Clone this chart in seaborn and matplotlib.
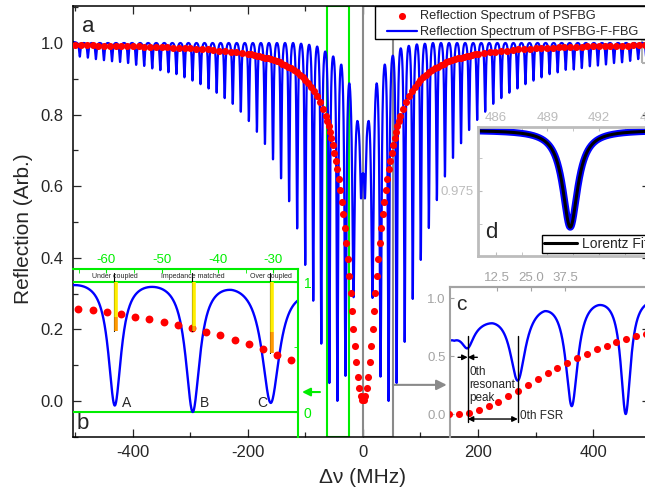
import numpy as np
import pandas as pd
import matplotlib
matplotlib.use("Agg")
import matplotlib.pyplot as plt
import seaborn as sns
from matplotlib.patches import Rectangle
from matplotlib.ticker import MultipleLocator, FixedLocator, FormatStrFormatter

# ---------------- data ----------------
# PSFBG-F-FBG (blue): dip centres (MHz) and dip minima
dip_pos_left = [-492.5, -478.5, -464.5, -450.5, -436.5, -422.5, -408.5, -394.5,
                -380.5, -366.5, -352.5, -338.5, -324.5, -310.5, -296.5, -282.5,
                -268.5, -254.5, -240.5, -226.5, -212.5, -198.5, -184.5, -170.5,
                -156.5, -142.5, -128.5, -114.5, -100.5, -86.5, -72.5, -58.5,
                -44.5, -30.5, -16.5, -3.5]
dip_min_left = [0.962, 0.959, 0.955, 0.952, 0.949, 0.947, 0.944, 0.939,
                0.936, 0.929, 0.924, 0.918, 0.913, 0.904, 0.895, 0.885,
                0.873, 0.861, 0.846, 0.830, 0.808, 0.782, 0.752, 0.718,
                0.675, 0.622, 0.558, 0.482, 0.380, 0.280, 0.160, 0.050,
                0.000, 0.070, 0.290, 0.567]
dip_pos_right = [3.5, 16.5, 30.5, 44.5, 58.5, 72.5, 86.5, 100.5,
                 114.5, 128.5, 142.5, 156.5, 170.5, 184.5, 198.5, 212.5,
                 226.5, 240.5, 254.5, 268.5, 282.5, 296.5, 310.5, 324.5,
                 338.5, 352.5, 366.5, 380.5, 394.5, 408.5, 422.5, 436.5,
                 450.5, 464.5, 478.5, 492.5]
dip_min_right = [0.567, 0.288, 0.068, 0.000, 0.050, 0.165, 0.285, 0.394,
                 0.483, 0.561, 0.627, 0.679, 0.720, 0.757, 0.785, 0.808,
                 0.830, 0.846, 0.861, 0.873, 0.885, 0.895, 0.904, 0.913,
                 0.918, 0.925, 0.926, 0.930, 0.935, 0.937, 0.940, 0.944,
                 0.946, 0.950, 0.955, 0.960]
# maxima between neighbouring dips (left side, centre bump, right side)
peak_top_left = [1.000, 1.000, 1.000, 1.000, 1.000, 1.000, 1.000, 1.000, 1.000,
                 1.000, 1.000, 1.000, 1.000, 1.000, 1.000, 1.000, 1.000, 1.000,
                 1.000, 1.000, 1.000, 1.000, 1.000, 1.000, 1.000, 1.000, 1.000,
                 0.998, 0.995, 0.990, 0.976, 0.962, 0.939, 0.887, 0.782]
peak_top_centre = [0.631]
peak_top_right = [0.782, 0.887, 0.939, 0.964, 0.985, 0.992, 0.996, 0.998,
                  1.000, 1.000, 1.000, 1.000, 1.000, 1.000, 1.000, 1.000, 1.000,
                  1.000, 1.000, 1.000, 1.000, 1.000, 1.000, 1.000, 1.000, 1.000,
                  1.000, 1.000, 1.000, 1.000, 1.000, 1.000, 1.000, 1.000, 1.000]

# PSFBG (red dots), symmetric about 0 MHz (right half listed)
red_nu_inner = [1.275, 3.825, 6.375, 8.925, 11.475, 14.025, 16.575, 19.125,
                21.675, 24.225, 26.775, 29.325, 31.875, 34.425, 36.975, 39.525,
                42.075, 44.625, 47.175, 49.725, 52.275, 54.825, 57.375, 59.925,
                62.475, 65.025]
red_R_inner = [0.002, 0.013, 0.036, 0.068, 0.108, 0.153, 0.202, 0.251,
               0.301, 0.350, 0.397, 0.441, 0.483, 0.521, 0.557, 0.589,
               0.619, 0.647, 0.671, 0.694, 0.715, 0.734, 0.751, 0.767,
               0.782, 0.795]
red_nu_outer = [70, 75, 80, 85, 90, 95, 100, 105, 110, 115, 120, 125, 130, 135,
                140, 145, 150, 155, 160, 165, 170, 175, 180, 185, 190, 195, 200,
                210, 220, 230, 240, 250, 260, 270, 280, 290, 300, 310,
                320, 330, 340, 350, 360, 370, 380, 390, 400, 410, 420, 430,
                440, 450, 460, 470, 480, 490, 500]
red_R_outer = [0.815, 0.835, 0.852, 0.866, 0.878, 0.889, 0.898, 0.906, 0.912,
               0.920, 0.925, 0.931, 0.934, 0.939, 0.942, 0.946, 0.949, 0.952,
               0.954, 0.957, 0.959, 0.961, 0.963, 0.965, 0.966, 0.968, 0.969,
               0.972, 0.974, 0.976, 0.978, 0.979, 0.980, 0.982, 0.983, 0.984,
               0.985, 0.986, 0.987, 0.987, 0.988, 0.989, 0.989, 0.990, 0.990,
               0.991, 0.991, 0.992, 0.992, 0.992, 0.993, 0.993, 0.993, 0.994,
               0.994, 0.994, 0.995]

# inset b annotations
coupling_x = [-58.5, -44.5, -30.5]
coupling_names = ["Under coupled", "Impedance matched", "Over coupled"]
coupling_letters = ["A", "B", "C"]
coupling_letter_x = [-56.3, -42.3, -32.0]
coupling_yellow_end = [0.733, 0.660, 0.618]
coupling_orange_end = [0.623, 0.623, 0.454]

# inset c top-axis tick labels
inset_c_top_ticks = [12.5, 25.0, 37.5]

# inset d: Lorentz fit of one resonance
fit_centre, fit_hwhm, fit_base, fit_min = 490.33, 0.53, 0.9796, 0.97223

# ---------------- build blue spectrum through the read extrema ----------------
dip_pos = np.array(dip_pos_left + dip_pos_right)
dip_min = np.array(dip_min_left + dip_min_right)
peak_top = np.array(peak_top_left + peak_top_centre + peak_top_right)
peak_pos = 0.5 * (dip_pos[:-1] + dip_pos[1:])
adp = np.abs(dip_pos)
hw = np.select([adp < 5, np.abs(adp - 16.5) < 1, np.abs(adp - 30.5) < 1, np.abs(adp - 44.5) < 1],
               [1.9, 2.4, 1.9, 1.55], default=1.4)


def dip_sum(x, depth):
    x = np.asarray(x, float)[:, None]
    return (depth * hw ** 2 / ((x - dip_pos) ** 2 + hw ** 2)).sum(axis=1)


top = peak_top.copy()
depth = np.interp(dip_pos, peak_pos, top) - dip_min
for _ in range(150):
    top += peak_top - (top - dip_sum(peak_pos, depth))
    depth += (np.interp(dip_pos, peak_pos, top) - dip_sum(dip_pos, depth)) - dip_min

nu = np.linspace(-504.3, 499.1, 20000)
R_blue = np.interp(nu, peak_pos, top) - dip_sum(nu, depth)
blue_df = pd.DataFrame({"nu": nu, "R": R_blue})

red_nu = np.concatenate([-np.array(red_nu_outer[::-1]), -np.array(red_nu_inner[::-1]),
                         np.array(red_nu_inner), np.array(red_nu_outer)])
red_R = np.concatenate([red_R_outer[::-1], red_R_inner[::-1], red_R_inner, red_R_outer])
red_df = pd.DataFrame({"nu": red_nu, "R": red_R})

# ---------------- figure ----------------
sns.set_style("ticks")
plt.rcParams["font.family"] = ["Liberation Sans", "DejaVu Sans"]
plt.rcParams["axes.unicode_minus"] = False
plt.rcParams["xtick.direction"] = "in"
plt.rcParams["ytick.direction"] = "in"

W, H = 645, 494
fig = plt.figure(figsize=(W / 100, H / 100), dpi=100)


def frac(x0, y0, x1, y1):
    return [x0 / W, 1 - y1 / H, (x1 - x0) / W, (y1 - y0) / H]


GREEN = "#00ee00"
GRAY = "#8a8a8a"
GRAY_C = "#a3a3a3"
GRAY_D = "#bcbcbc"

ax = fig.add_axes(frac(73, 6, 650, 437))
sns.scatterplot(data=red_df, x="nu", y="R", ax=ax, color="red", s=26, linewidth=0,
                label="Reflection Spectrum of PSFBG", zorder=3)
sns.lineplot(data=blue_df, x="nu", y="R", ax=ax, color="blue", lw=1.6,
             label="Reflection Spectrum of PSFBG-F-FBG", estimator=None, sort=False, zorder=2)
ax.set_xlim(-504.3, 499.1)
ax.set_ylim(-0.1006, 1.1034)
ax.xaxis.set_major_locator(MultipleLocator(200))
ax.xaxis.set_minor_locator(MultipleLocator(100))
ax.yaxis.set_major_locator(MultipleLocator(0.2))
ax.yaxis.set_minor_locator(MultipleLocator(0.1))
ax.yaxis.set_major_formatter(FormatStrFormatter("%.1f"))
ax.tick_params(which="both", top=True, right=True, direction="in", width=0.9, labelsize=12)
ax.tick_params(which="major", length=6)
ax.tick_params(which="minor", length=3.5)
ax.tick_params(axis="y", pad=7)
ax.tick_params(axis="x", pad=6)
for s in ax.spines.values():
    s.set_linewidth(1.1)
    s.set_color("black")
ax.set_xlabel("Δν (MHz)", fontsize=15)
ax.set_ylabel("Reflection (Arb.)", fontsize=15)
ax.xaxis.set_label_coords(0.501, -0.072)
ax.yaxis.set_label_coords(-0.069, 0.483)
ax.text(-478, 1.047, "a", fontsize=16, ha="center", va="center")

ax.add_patch(Rectangle((-62.6, -0.1006), 38.3, 1.204, fill=False, ec=GREEN, lw=1.5, zorder=1.5))
ax.add_patch(Rectangle((0, -0.1006), 52, 1.204, fill=False, ec=GRAY, lw=1.5, zorder=1.5))
ax.add_patch(Rectangle((484.7, 0.944), 30, 0.064, fill=False, ec="#b0b0b0", lw=1.5, zorder=1.5))
ax.annotate("", xy=(145.6, 0.045), xytext=(52, 0.045),
            arrowprops=dict(arrowstyle="-|>", color=GRAY, lw=1.5, mutation_scale=15,
                            shrinkA=0, shrinkB=0))
ax.annotate("", xy=(-106, 0.025), xytext=(-74.8, 0.025),
            arrowprops=dict(arrowstyle="-|>", color=GREEN, lw=1.5, mutation_scale=12,
                            shrinkA=0, shrinkB=0))

# legend: frame drawn separately so the handles sit as in the reference
ax.add_patch(Rectangle((375 / W, 1 - 39 / H), (662 - 375) / W, 33 / H, transform=fig.transFigure,
                       fc="white", ec="black", lw=1.0, clip_on=False, zorder=4.9))
h, l = ax.get_legend_handles_labels()
leg = ax.legend(h, l, loc="upper left", bbox_to_anchor=(387 / W, 1 - 10.5 / H),
                bbox_transform=fig.transFigure, frameon=False, fontsize=9.2, borderpad=0,
                handlelength=2.35, handletextpad=0.25, labelspacing=0.3, borderaxespad=0)

# ---------------- inset b ----------------
axb = fig.add_axes(frac(73, 269, 298, 437), facecolor="none")
mb = (nu > -67) & (nu < -25)
rb = (red_nu > -67) & (red_nu < -25)
sns.scatterplot(x=red_nu[rb], y=red_R[rb], ax=axb, color="red", s=32, linewidth=0, zorder=3, legend=False)
sns.lineplot(x=nu[mb], y=R_blue[mb], ax=axb, color="blue", lw=1.7, estimator=None, sort=False,
             zorder=2, legend=False)
axb.set_xlim(-66, -25.6)
axb.set_ylim(-0.192, 1.1)
axb.axhline(1, color=GREEN, lw=1.5, zorder=1)
axb.axhline(0, color=GREEN, lw=1.5, zorder=1)
axb.spines["left"].set_visible(False)
axb.spines["bottom"].set_visible(False)
for k in ("top", "right"):
    axb.spines[k].set_color(GREEN)
    axb.spines[k].set_linewidth(1.5)
axb.xaxis.tick_top()
axb.yaxis.tick_right()
axb.xaxis.set_major_locator(MultipleLocator(10))
axb.xaxis.set_minor_locator(MultipleLocator(5))
axb.yaxis.set_major_locator(FixedLocator([0, 1]))
axb.yaxis.set_minor_locator(FixedLocator([0.5]))
axb.yaxis.set_major_formatter(FormatStrFormatter("%d"))
axb.tick_params(which="both", direction="in", colors=GREEN, labelcolor=GREEN)
axb.tick_params(axis="x", which="both", bottom=False, top=True, labelsize=9.5, pad=2, length=3)
axb.tick_params(axis="y", which="both", left=False, right=True, labelsize=10, pad=4, length=3)
axb.set_xlabel("")
axb.set_ylabel("")
for x, name, let, lx, ye, oe in zip(coupling_x, coupling_names, coupling_letters,
                                     coupling_letter_x, coupling_yellow_end, coupling_orange_end):
    axb.plot([x - 0.2, x - 0.2], [1.07, oe], color="black", lw=0.8, zorder=4)
    axb.plot([x + 0.3, x + 0.3], [1.0, ye], color="#ffee00", lw=2.6, zorder=4, solid_capstyle="butt")
    axb.plot([x + 0.3, x + 0.3], [ye, oe], color="#ff9a00", lw=2.6, zorder=4, solid_capstyle="butt")
    axb.text(x, 1.045, name, fontsize=5, ha="center", va="center", zorder=5)
    axb.text(lx, 0.07, let, fontsize=10, ha="center", va="center", zorder=5)
axb.text(-64.2, -0.09, "b", fontsize=16, ha="center", va="center")

# ---------------- inset c ----------------
axc = fig.add_axes(frac(450, 287, 650, 437), facecolor="none")
mc = (nu > -2) & (nu < 52)
rc = (red_nu > -2) & (red_nu < 52)
sns.scatterplot(x=red_nu[rc], y=red_R[rc], ax=axc, color="red", s=26, linewidth=0, zorder=3, legend=False)
sns.lineplot(x=nu[mc], y=R_blue[mc], ax=axc, color="blue", lw=1.7, estimator=None, sort=False,
             zorder=2, legend=False)
axc.set_xlim(-1.09, 50.8)
axc.set_ylim(-0.198, 1.095)
axc.set_xticks([])
axc.yaxis.set_major_locator(FixedLocator([0.0, 0.5, 1.0]))
axc.yaxis.set_major_formatter(FormatStrFormatter("%.1f"))
axc.tick_params(axis="y", direction="in", colors=GRAY_C, labelcolor=GRAY_C, labelsize=9.5,
                length=3, pad=3)
axc.spines["bottom"].set_visible(False)
axc.spines["right"].set_visible(False)
for k in ("left", "top"):
    axc.spines[k].set_color(GRAY_C)
    axc.spines[k].set_linewidth(1.5)
axc.set_xlabel("")
axc.set_ylabel("")
sec = axc.secondary_xaxis("top", functions=(lambda x: (x - 2.28) * 1.417,
                                             lambda t: t / 1.417 + 2.28))
sec.set_xticks(inset_c_top_ticks)
sec.set_xticklabels([f"{t:.1f}" for t in inset_c_top_ticks])
sec.tick_params(direction="in", colors=GRAY_C, labelcolor=GRAY_C, labelsize=9.5, length=3, pad=2)
sec.spines["top"].set_color(GRAY_C)
sec.spines["top"].set_linewidth(1.5)
axc.plot([3.5, 3.5], [0.672, -0.066], color="black", lw=1.0, zorder=4)
axc.plot([16.5, 16.5], [0.672, -0.066], color="black", lw=1.0, zorder=4)
axc.annotate("", xy=(3.5, -0.043), xytext=(16.5, -0.043),
             arrowprops=dict(arrowstyle="<|-|>", color="black", lw=1.0, mutation_scale=8,
                             shrinkA=0, shrinkB=0))
axc.annotate("", xy=(3.5, 0.489), xytext=(1.0, 0.489),
             arrowprops=dict(arrowstyle="-|>", color="black", lw=1.0, mutation_scale=8,
                             shrinkA=0, shrinkB=0))
axc.annotate("", xy=(3.5, 0.489), xytext=(6.0, 0.489),
             arrowprops=dict(arrowstyle="-|>", color="black", lw=1.0, mutation_scale=8,
                             shrinkA=0, shrinkB=0))
axc.text(4.0, 0.415, "0th\nresonant\npeak", fontsize=8.5, ha="left", va="top", linespacing=1.12)
axc.text(17.2, -0.015, "0th FSR", fontsize=8.5, ha="left", va="center")
axc.text(1.95, 0.94, "c", fontsize=15, ha="center", va="center")

# ---------------- inset d ----------------
axd = fig.add_axes(frac(478, 127, 652, 256), facecolor="none")
nu_d = np.linspace(484.9, 495.2, 1500)
R_d = fit_base - (fit_base - fit_min) / (1 + ((nu_d - fit_centre) / fit_hwhm) ** 2)
sns.lineplot(x=nu_d, y=R_d, ax=axd, color="blue", lw=5.0, estimator=None, sort=False, legend=False)
sns.lineplot(x=nu_d, y=R_d, ax=axd, color="black", lw=2.2, estimator=None, sort=False,
             label="Lorentz Fit")
axd.set_xlim(484.96, 495.09)
axd.set_ylim(0.97005, 0.97983)
axd.xaxis.set_major_locator(MultipleLocator(3))
axd.xaxis.set_minor_locator(MultipleLocator(1.5))
axd.yaxis.set_major_locator(FixedLocator([0.975]))
axd.yaxis.set_minor_locator(FixedLocator([0.9725, 0.9775]))
axd.yaxis.set_major_formatter(FormatStrFormatter("%.3f"))
axd.xaxis.set_major_formatter(FormatStrFormatter("%d"))
axd.tick_params(which="both", direction="in", colors=GRAY_D, labelcolor=GRAY_D, labelsize=9.5)
axd.tick_params(axis="x", which="both", top=True, bottom=True, labeltop=True, labelbottom=False,
                length=3, pad=2)
axd.tick_params(axis="y", which="both", left=True, right=False, length=3, pad=3)
axd.spines["right"].set_visible(False)
for k in ("left", "top", "bottom"):
    axd.spines[k].set_color(GRAY_D)
    axd.spines[k].set_linewidth(2.0)
axd.set_xlabel("")
axd.set_ylabel("")
axd.text(485.72, 0.9718, "d", fontsize=16, ha="center", va="center")
hd, ld = axd.get_legend_handles_labels()
legd = axd.legend(hd, ld, loc="lower left", bbox_to_anchor=(542 / W, 1 - 253 / H),
                  bbox_transform=fig.transFigure, frameon=True, fancybox=False,
                  edgecolor="black", framealpha=1, fontsize=10, borderpad=0.15,
                  handlelength=2.4, handletextpad=0.3, borderaxespad=0)
legd.get_frame().set_linewidth(1.0)

fig.savefig("out.png", dpi=100)
